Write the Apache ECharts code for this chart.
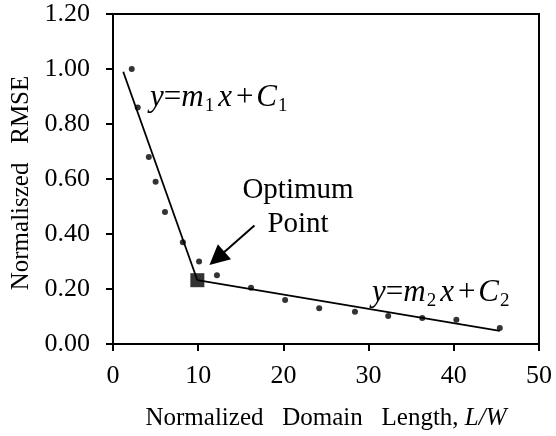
<!DOCTYPE html>
<html>
<head>
<meta charset="utf-8">
<script src="https://cdn.jsdelivr.net/npm/echarts@6/dist/echarts.min.js"></script>
<style>html,body{margin:0;padding:0;background:#fff}#c{width:556px;height:436px}</style>
</head>
<body>
<div id="c"></div>
<script>
// Data
var pointX = [2.2, 2.9, 4.2, 5.0, 6.1, 8.2, 10.1, 12.2, 16.2, 20.2, 24.2, 28.4, 32.3, 36.3, 40.3, 45.4];
var pointY = [1.00, 0.86, 0.68, 0.59, 0.48, 0.37, 0.30, 0.25, 0.205, 0.16, 0.13, 0.117, 0.102, 0.095, 0.088, 0.058];
var optimumPoint = [9.9, 0.232];
var fit1 = [[1.2, 0.99], [9.9, 0.232]];
var fit2 = [[9.9, 0.232], [45.4, 0.048]];
var arrowCoords = [[16.6, 0.431], [12.2, 0.311]];
var xTicks = [0, 10, 20, 30, 40, 50];
var yTicks = [0, 0.2, 0.4, 0.6, 0.8, 1.0, 1.2];

var serif = 'Liberation Serif';
var chart = echarts.init(document.getElementById('c'));
var scatterData = pointX.map(function (x, i) { return [x, pointY[i]]; });

var eqRich = {
  i: {fontFamily: serif, fontStyle: 'italic', fontSize: 31, lineHeight: 36, color: '#000'},
  r: {fontFamily: serif, fontSize: 31, lineHeight: 36, color: '#000'},
  rp: {fontFamily: serif, fontSize: 31, lineHeight: 36, color: '#000', padding: [0, 3, 0, 4]},
  ix: {fontFamily: serif, fontStyle: 'italic', fontSize: 31, lineHeight: 36, color: '#000', padding: [0, 0, 0, 4]},
  s: {fontFamily: serif, fontSize: 19, lineHeight: 36, verticalAlign: 'bottom', color: '#000', padding: [0, 0, 0, 1]}
};

chart.setOption({
  animation: false,
  backgroundColor: '#fff',
  grid: {left: 113, right: 17, top: 14, bottom: 90, containLabel: false, show: true, borderColor: '#000', borderWidth: 2, backgroundColor: 'transparent'},
  xAxis: {
    type: 'value', min: xTicks[0], max: xTicks[xTicks.length - 1], interval: 10,
    name: '{n|Normalized   Domain   Length, }{it|L/W}', nameLocation: 'middle', nameGap: 62,
    nameTextStyle: {rich: {n: {fontFamily: serif, fontSize: 25, color: '#000'}, it: {fontFamily: serif, fontStyle: 'italic', fontSize: 25, color: '#000'}}},
    axisLine: {show: true, onZero: false, lineStyle: {color: '#000', width: 2}},
    axisTick: {show: true, length: 7, lineStyle: {color: '#000', width: 2}},
    axisLabel: {fontFamily: serif, fontSize: 26, color: '#000', margin: 19},
    splitLine: {show: false}
  },
  yAxis: {
    type: 'value', min: yTicks[0], max: yTicks[yTicks.length - 1], interval: 0.2,
    name: 'Normaliszed   RMSE', nameLocation: 'middle', nameGap: 76,
    nameTextStyle: {fontFamily: serif, fontSize: 25, color: '#000', padding: [0, 0, 0, -8]},
    axisLine: {show: true, onZero: false, lineStyle: {color: '#000', width: 2}},
    axisTick: {show: true, length: 7, lineStyle: {color: '#000', width: 2}},
    axisLabel: {fontFamily: serif, fontSize: 26, color: '#000', margin: 23, formatter: function (v) { return v.toFixed(2); }},
    splitLine: {show: false}
  },
  series: [
    {type: 'line', data: fit1, symbol: 'none', lineStyle: {color: '#000', width: 1.8}, z: 2},
    {type: 'line', data: fit2, symbol: 'none', lineStyle: {color: '#000', width: 1.8}, z: 2},
    {type: 'scatter', data: scatterData, symbol: 'circle', symbolSize: 6, itemStyle: {color: '#000'}, z: 3},
    {type: 'scatter', data: [optimumPoint], symbol: 'rect', symbolSize: 14, itemStyle: {color: '#000'}, z: 4},
    {type: 'lines', coordinateSystem: 'cartesian2d', data: [{coords: arrowCoords}], symbol: ['none', 'triangle'], symbolSize: 20,
     lineStyle: {color: '#000', width: 2, opacity: 1}, itemStyle: {color: '#000'}, z: 5}
  ],
  graphic: [
    {type: 'text', x: 150, y: 79.5, style: {text: '{i|y}{r|=}{i|m}{s|1}{ix|x}{rp|+}{i|C}{s|1}', rich: eqRich, align: 'left', verticalAlign: 'top'}},
    {type: 'text', x: 372, y: 274.5, style: {text: '{i|y}{r|=}{i|m}{s|2}{ix|x}{rp|+}{i|C}{s|2}', rich: eqRich, align: 'left', verticalAlign: 'top'}},
    {type: 'text', x: 298, y: 173, style: {text: 'Optimum\nPoint', fontFamily: serif, fontSize: 29, lineHeight: 34, fill: '#000', align: 'center', verticalAlign: 'top'}}
  ]
});
</script>
</body>
</html>
